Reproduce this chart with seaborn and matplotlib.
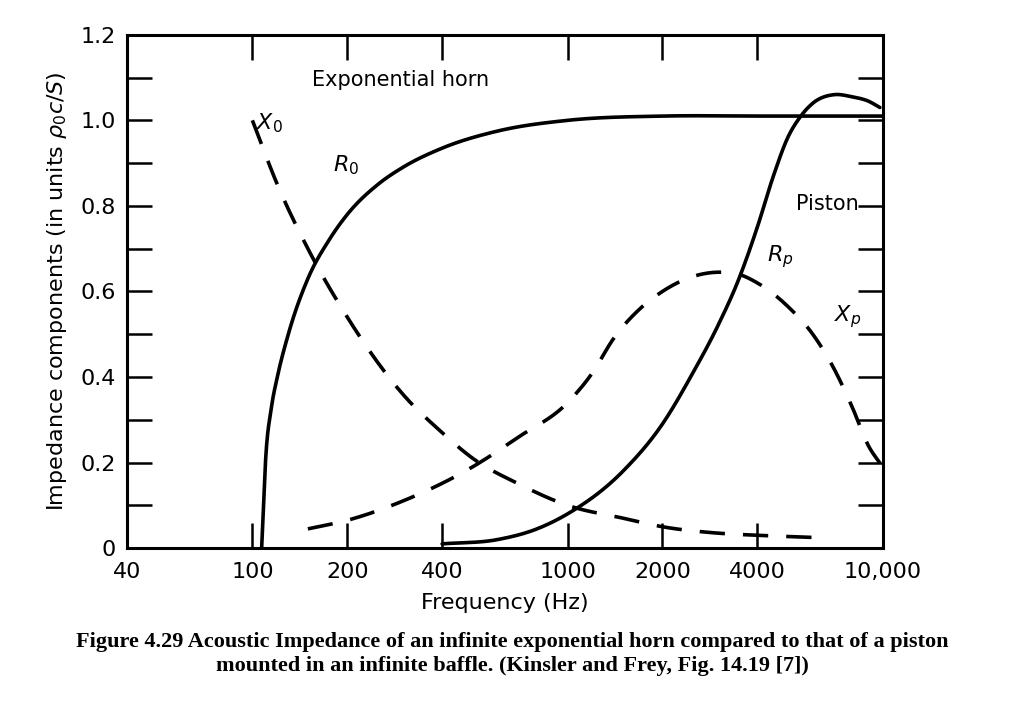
import numpy as np
import pandas as pd
import matplotlib.pyplot as plt
import seaborn as sns
from matplotlib.ticker import FixedLocator, NullLocator

# Exponential horn resistance R0
r0_freq = [107, 110, 115, 120, 130, 150, 175, 200, 250, 300, 400, 600, 1000, 2000, 4000, 10000]
r0_val = [0.0, 0.2, 0.33, 0.4, 0.5, 0.63, 0.72, 0.78, 0.85, 0.89, 0.935, 0.975, 1.0, 1.01, 1.01, 1.01]

# Exponential horn reactance X0
x0_freq = [100, 120, 150, 200, 300, 400, 500, 700, 1000, 1500, 2000, 3000, 4000, 6000]
x0_val = [1.0, 0.85, 0.7, 0.54, 0.36, 0.27, 0.21, 0.15, 0.1, 0.07, 0.05, 0.035, 0.03, 0.025]

# Piston resistance Rp
rp_freq = [400, 600, 800, 1000, 1500, 2000, 2500, 3000, 3500, 4000, 4500, 5000, 5500, 6000, 7000, 8000, 9000, 9800]
rp_val = [0.01, 0.02, 0.045, 0.08, 0.18, 0.29, 0.41, 0.52, 0.63, 0.75, 0.87, 0.96, 1.01, 1.04, 1.06, 1.055, 1.045, 1.03]

# Piston reactance Xp
xp_freq = [150, 200, 300, 500, 700, 1000, 1200, 1400, 1700, 2000, 2500, 3000, 3500, 4000, 5000, 6000, 7000, 8000, 9000, 10000]
xp_val = [0.045, 0.065, 0.11, 0.19, 0.26, 0.34, 0.41, 0.49, 0.56, 0.6, 0.635, 0.645, 0.64, 0.62, 0.565, 0.5, 0.42, 0.33, 0.24, 0.19]

x_ticks = [40, 100, 200, 400, 1000, 2000, 4000, 10000]
x_labels = ["40", "100", "200", "400", "1000", "2000", "4000", "10,000"]
y_ticks = [0, 0.2, 0.4, 0.6, 0.8, 1.0, 1.2]
y_labels = ["0", "0.2", "0.4", "0.6", "0.8", "1.0", "1.2"]

sns.set_style("white")
plt.rcParams['font.family'] = ['DejaVu Sans']
plt.rcParams['text.color'] = 'black'
plt.rcParams['axes.labelcolor'] = 'black'
plt.rcParams['xtick.color'] = 'black'
plt.rcParams['ytick.color'] = 'black'

fig = plt.figure(figsize=(10.24, 7.1), dpi=100)
ax = fig.add_axes([0.124, 0.228, 0.738, 0.723])


def smooth(f, v, n=400):
    # Catmull-Rom through the read points, in log-frequency
    x = np.log10(np.asarray(f, float))
    y = np.asarray(v, float)
    m = np.gradient(y, x)
    xs, ys = [], []
    for i in range(len(x) - 1):
        h = x[i + 1] - x[i]
        t = np.linspace(0, 1, 30, endpoint=False)
        h00 = 2 * t**3 - 3 * t**2 + 1
        h10 = t**3 - 2 * t**2 + t
        h01 = -2 * t**3 + 3 * t**2
        h11 = t**3 - t**2
        xs.append(x[i] + t * h)
        ys.append(h00 * y[i] + h10 * h * m[i] + h01 * y[i + 1] + h11 * h * m[i + 1])
    xs.append([x[-1]])
    ys.append([y[-1]])
    return 10 ** np.concatenate(xs), np.concatenate(ys)


for f, v, ls in [(r0_freq, r0_val, "-"), (x0_freq, x0_val, (0, (7, 5))),
                 (rp_freq, rp_val, "-"), (xp_freq, xp_val, (0, (7, 5)))]:
    xs, ys = smooth(f, v)
    sns.lineplot(x=xs, y=ys, ax=ax, color="black", lw=2.6, linestyle=ls, sort=False)

ax.set_xscale("log")
ax.set_xlim(40, 10000)
ax.set_ylim(0, 1.2)
ax.xaxis.set_major_locator(FixedLocator(x_ticks))
ax.xaxis.set_minor_locator(NullLocator())
ax.set_xticklabels(x_labels, fontsize=16)
ax.set_yticks(y_ticks)
ax.set_yticklabels(y_labels, fontsize=16)
ax.set_yticks(np.arange(0.1, 1.2, 0.2), minor=True)
ax.tick_params(axis="both", which="both", direction="in", length=18, width=1.8,
               top=True, right=True, bottom=True, left=True)
ax.tick_params(axis="x", pad=10)
ax.tick_params(axis="y", pad=8)
for s in ax.spines.values():
    s.set_linewidth(2.2)
    s.set_color("black")

ax.set_xlabel("Frequency (Hz)", fontsize=16, labelpad=8)
ax.set_ylabel(r"Impedance components (in units $\rho_0 c/S$)", fontsize=16, labelpad=8)

ax.text(155, 1.08, "Exponential horn", fontsize=15)
ax.text(103, 0.98, r"$X_0$", fontsize=16)
ax.text(180, 0.88, r"$R_0$", fontsize=16)
ax.text(5300, 0.79, "Piston", fontsize=15)
ax.text(4300, 0.67, r"$R_p$", fontsize=16)
ax.text(7000, 0.53, r"$X_p$", fontsize=16)

fig.text(0.5, 0.11, "Figure 4.29 Acoustic Impedance of an infinite exponential horn compared to that of a piston\n"
         "mounted in an infinite baffle. (Kinsler and Frey, Fig. 14.19 [7])",
         ha="center", va="top", fontsize=16, fontweight="bold", family="Liberation Serif", linespacing=1.25)

fig.savefig("out.png", dpi=100)
